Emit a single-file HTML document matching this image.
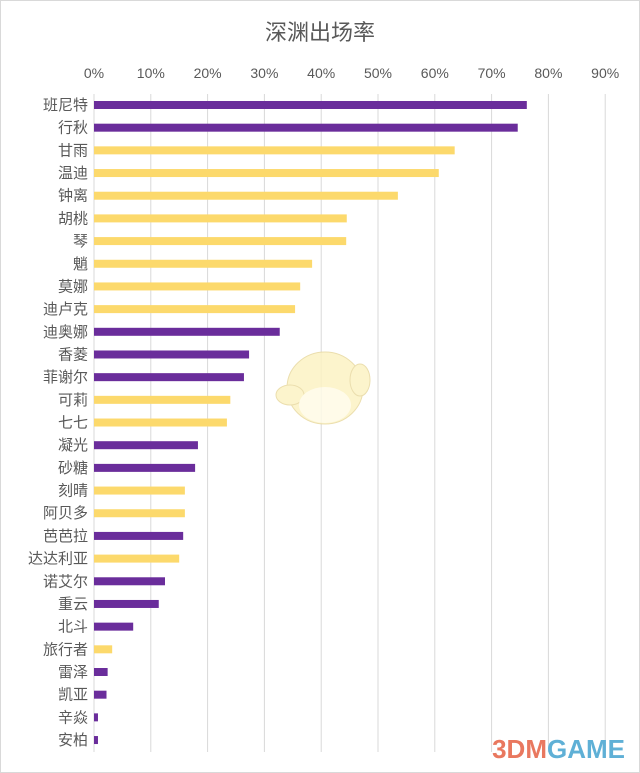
<!DOCTYPE html>
<html><head><meta charset="utf-8"><style>
body{margin:0;background:#fff;}
svg{display:block;font-family:"Liberation Sans","Noto Sans CJK SC",sans-serif;}
</style></head><body>
<svg width="640" height="773" viewBox="0 0 640 773" xmlns="http://www.w3.org/2000/svg">
<rect x="0.5" y="0.5" width="639" height="772" fill="#fff" stroke="#d9d9d9"/>
<text x="320" y="40" text-anchor="middle" font-size="22" fill="#595959">深渊出场率</text>
<g id="grid" stroke="#d9d9d9" stroke-width="1"></g>
<g id="ticks" font-size="14" fill="#595959" text-anchor="middle"></g>
<g id="bars"></g>
<g id="labels" font-size="15" fill="#595959" text-anchor="end"></g>
<g opacity="0.85">
<ellipse cx="325" cy="388" rx="38" ry="36" fill="#fcf3c4" stroke="#e8d9a0"/>
<ellipse cx="290" cy="395" rx="14" ry="10" fill="#fcf3c4" stroke="#e8d9a0"/>
<ellipse cx="360" cy="380" rx="10" ry="16" fill="#fcf3c4" stroke="#e8d9a0"/>
<ellipse cx="325" cy="405" rx="26" ry="18" fill="#fffbe6"/>
</g>
<text x="625" y="758" text-anchor="end" font-size="26" font-weight="bold" fill="#e9785f">3DM<tspan fill="#5fb0d6">GAME</tspan></text>
<script>
var ns="http://www.w3.org/2000/svg";
function el(p,t,a,txt){var e=document.createElementNS(ns,t);for(var k in a)e.setAttribute(k,a[k]);if(txt)e.textContent=txt;document.getElementById(p).appendChild(e);}
var x0=94,u=5.68;
for(var i=0;i<=9;i++){var x=x0+i*56.8;el("grid","line",{x1:x,x2:x,y1:94,y2:752});el("ticks","text",{x:x,y:78},i*10+"%");}
var d=[["班尼特",76.2,1],["行秋",74.6,1],["甘雨",63.5,0],["温迪",60.7,0],["钟离",53.5,0],["胡桃",44.5,0],["琴",44.4,0],["魈",38.4,0],["莫娜",36.3,0],["迪卢克",35.4,0],["迪奥娜",32.7,1],["香菱",27.3,1],["菲谢尔",26.4,1],["可莉",24,0],["七七",23.4,0],["凝光",18.3,1],["砂糖",17.8,1],["刻晴",16,0],["阿贝多",16,0],["芭芭拉",15.7,1],["达达利亚",15,0],["诺艾尔",12.5,1],["重云",11.4,1],["北斗",6.9,1],["旅行者",3.2,0],["雷泽",2.4,1],["凯亚",2.2,1],["辛焱",0.7,1],["安柏",0.7,1]];
d.forEach(function(r,i){var y=105+i*22.68;el("bars","rect",{x:x0,y:y-4,width:r[1]*u,height:8,fill:r[2]?"#6a2d9b":"#fcd96c"});el("labels","text",{x:88,y:y+5},r[0]);});
</script>
</svg>
</body></html>
